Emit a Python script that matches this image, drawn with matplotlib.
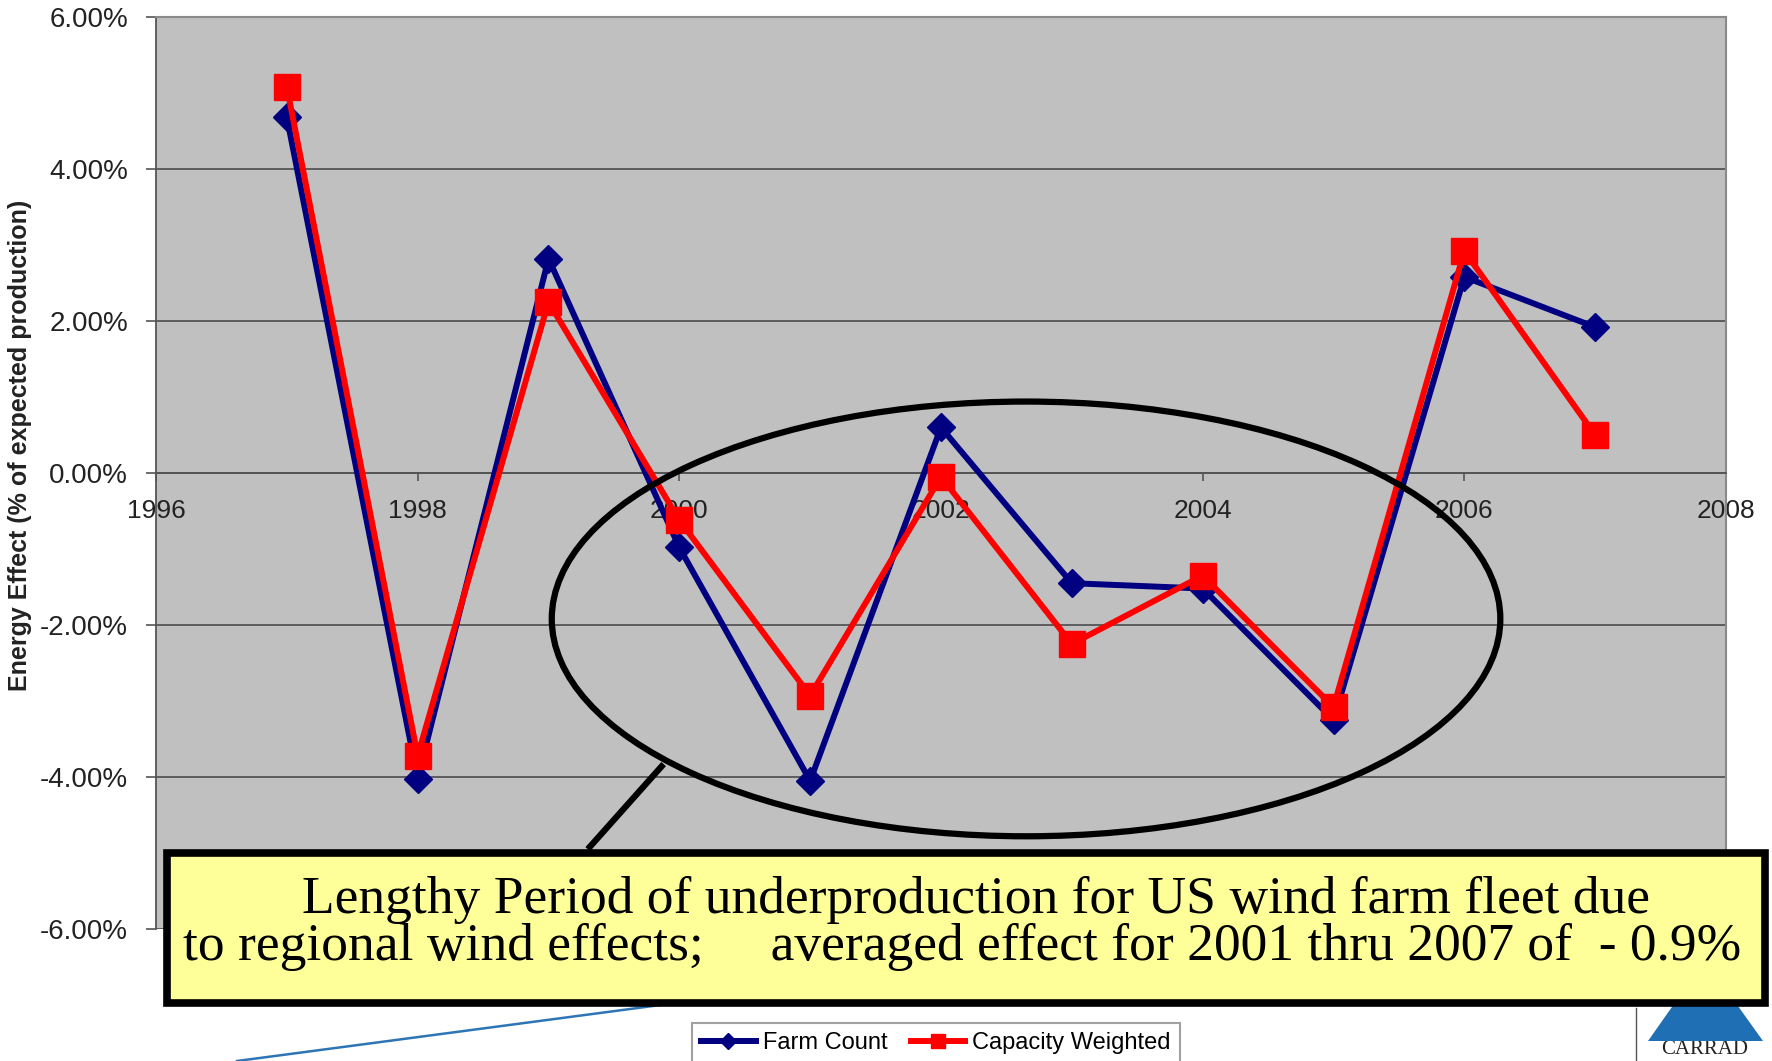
import numpy as np
import matplotlib
matplotlib.use("Agg")
import matplotlib.pyplot as plt
from matplotlib.patches import Ellipse, Rectangle, Polygon
from matplotlib.lines import Line2D
from matplotlib.ticker import FuncFormatter

# values (percent)
years = [1997, 1998, 1999, 2000, 2001, 2002, 2003, 2004, 2005, 2006, 2007]
farm_count = [4.68, -4.02, 2.82, -0.98, -4.05, 0.60, -1.45, -1.52, -3.25, 2.58, 1.92]
capacity_weighted = [5.08, -3.72, 2.25, -0.62, -2.93, -0.05, -2.25, -1.35, -3.08, 2.92, 0.50]
x_ticks = [1996, 1998, 2000, 2002, 2004, 2006, 2008]
y_ticks = [-6, -4, -2, 0, 2, 4, 6]

note_line1 = "Lengthy Period of underproduction for US wind farm fleet due"
note_line2 = "to regional wind effects;     averaged effect for 2001 thru 2007 of  - 0.9%"

W, H = 1772, 1061
fig = plt.figure(figsize=(W / 100, H / 100), dpi=100)
fig.patch.set_facecolor("white")

def fx(px):
    return px / W

def fy(py):
    return 1 - py / H

ax = fig.add_axes([fx(156), fy(929), fx(1726) - fx(156), fy(17) - fy(929)])
ax.set_facecolor("#c0c0c0")
ax.set_xlim(x_ticks[0], x_ticks[-1])
ax.set_ylim(y_ticks[0], y_ticks[-1])

# grid
ax.set_yticks(y_ticks)
ax.set_xticks(x_ticks)
ax.yaxis.grid(True, color="#555555", lw=1.3, zorder=1)
ax.set_axisbelow(True)

ax.spines["bottom"].set_position(("data", 0))
for s in ["left", "bottom"]:
    ax.spines[s].set_color("#555555")
    ax.spines[s].set_linewidth(1.3)
for s in ["top", "right"]:
    ax.spines[s].set_color("#8a8a8a")
    ax.spines[s].set_linewidth(1.5)

ax.yaxis.set_major_formatter(FuncFormatter(lambda v, p: "%.2f%%" % v))
ax.tick_params(axis="y", direction="out", length=7, width=1.2, color="#555555",
               pad=13, labelsize=20, labelcolor="#222222")
ax.tick_params(axis="x", direction="out", length=6, width=1.2, color="#555555",
               pad=13, labelsize=19, labelcolor="#222222")
for lab in ax.get_xticklabels() + ax.get_yticklabels():
    lab.set_fontfamily("Liberation Sans")

ax.set_ylabel("Energy Effect (% of expected production)", fontsize=18,
              fontweight="bold", fontfamily="Liberation Sans", color="#222222")
ax.yaxis.set_label_coords(-0.079, 0.53)

ax.plot(years, farm_count, color="#000080", lw=4.3, marker="D", ms=14,
        zorder=3, clip_on=False, label="Farm Count")
ax.plot(years, capacity_weighted, color="#ff0000", lw=4.3, marker="s", ms=19,
        zorder=4, clip_on=False, label="Capacity Weighted")

# ellipse around 2000-2005 period
ell = Ellipse((2002.65, -1.92), 7.25, 5.72, fill=False, ec="black", lw=4.5, zorder=6)
ax.add_patch(ell)
ax.plot([1999.88, 1999.30], [-3.83, -4.95], color="black", lw=4.5, zorder=6,
        clip_on=False, solid_capstyle="butt")

# thin blue line at bottom left
fig.add_artist(Line2D([fx(237), fx(668)], [fy(1061), fy(1004)], color="#2e75b6",
                      lw=1.8, zorder=1))

# note box
box = Rectangle((fx(167), fy(1003)), fx(1765) - fx(167), fy(853) - fy(1003),
                transform=fig.transFigure, fc="#ffff99", ec="black", lw=5.5, zorder=10)
fig.add_artist(box)
fig.text(fx(976), fy(900), note_line1, ha="center", va="center", fontsize=38.5,
         fontfamily="Liberation Serif", zorder=11)
fig.text(fx(962), fy(947), note_line2, ha="center", va="center", fontsize=38.5,
         fontfamily="Liberation Serif", zorder=11)

# legend
leg = fig.legend(loc="upper center", bbox_to_anchor=(fx(936), fy(1023)), ncol=2,
                 frameon=True, fancybox=False, edgecolor="#888888",
                 prop={"family": "Liberation Sans", "size": 17},
                 handlelength=2.3, columnspacing=1.0, handletextpad=0.3,
                 markerscale=0.55, borderpad=0.4, borderaxespad=0)
leg.get_frame().set_linewidth(1.5)

# logo corner
fig.add_artist(Line2D([fx(1636), fx(1636)], [fy(1008), fy(1061)], color="#555555", lw=1))
tri = Polygon([(fx(1705), fy(960)), (fx(1648), fy(1041)), (fx(1763), fy(1041))],
              closed=True, transform=fig.transFigure, fc="#1f6fb5", ec="none", zorder=5)
fig.add_artist(tri)
fig.text(fx(1705), fy(1059), "CARRAD", ha="center", va="bottom", fontsize=15,
         fontfamily="Liberation Serif", color="#222222")

fig.savefig("out.png", dpi=100)
